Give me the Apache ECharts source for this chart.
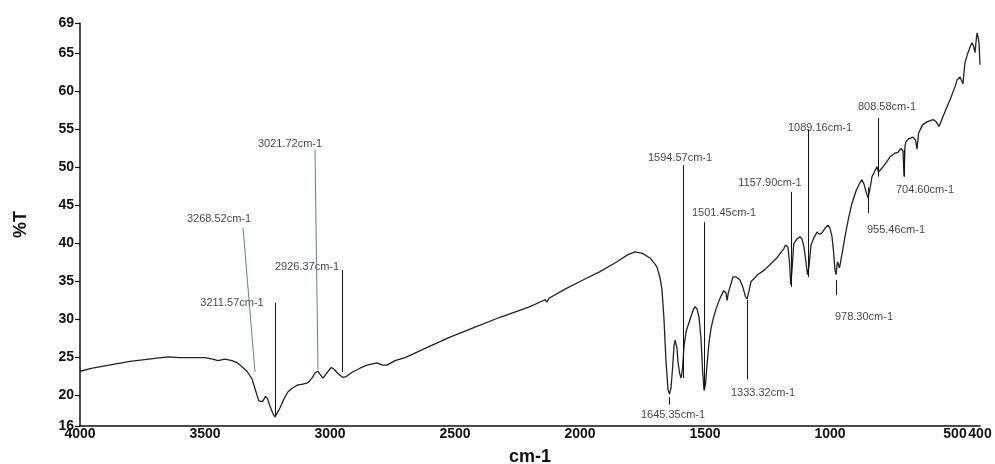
<!DOCTYPE html>
<html>
<head>
<meta charset="utf-8">
<script src="https://cdn.jsdelivr.net/npm/echarts@6/dist/echarts.min.js"></script>
<style>
html,body{margin:0;padding:0;background:#fff;}
#chart{width:995px;height:464px;}
</style>
</head>
<body>
<div id="chart"></div>
<script>
// ---- data ----
const wavenumbers = [4000,3950,3900,3850,3800,3750,3700,3648,3600,3550,3500,3470,3448,3420,3392,3370,3352,3330,3312,3300,3285,3270,3258,3250,3240,3228,3220,3210,3200,3185,3168,3150,3128,3108,3088,3070,3060,3048,3035,3028,3012,2995,2985,2965,2950,2935,2910,2880,2852,2812,2790,2772,2740,2700,2680,2600,2520,2420,2320,2250,2200,2140,2132,2124,2060,1988,1920,1852,1810,1780,1750,1720,1700,1692,1680,1672,1664,1656,1648,1642,1636,1630,1624,1620,1616,1612,1608,1602,1596,1590,1584,1575,1560,1548,1540,1532,1524,1516,1510,1504,1498,1492,1484,1476,1468,1455,1440,1425,1416,1412,1406,1398,1388,1375,1360,1348,1338,1332,1325,1316,1300,1290,1280,1260,1240,1228,1210,1195,1185,1178,1168,1162,1157,1152,1145,1132,1120,1112,1104,1096,1090,1084,1076,1068,1060,1052,1042,1032,1020,1008,1000,992,986,980,976,970,966,962,958,950,940,926,912,895,880,872,864,856,848,840,832,824,812,806,800,790,772,760,740,728,716,708,704,700,696,684,668,658,652,646,630,612,588,575,564,556,548,520,500,492,480,472,468,464,460,448,440,432,426,420,416,412,408,404,400];
const transmittance = [23.2,23.6,23.9,24.2,24.5,24.7,24.9,25.1,25.0,25.0,25.0,24.8,24.6,24.8,24.6,24.3,23.8,23.1,22.2,20.9,19.3,19.2,19.9,19.6,18.6,17.6,17.2,17.8,18.4,19.5,20.5,21.0,21.4,21.5,21.7,22.4,23.0,23.2,22.6,22.3,23.0,23.7,23.5,22.8,22.4,22.5,23.1,23.6,24.0,24.3,24.0,24.0,24.6,25.0,25.3,26.5,27.7,29.0,30.3,31.1,31.7,32.6,32.3,32.8,34.0,35.2,36.3,37.6,38.5,38.9,38.7,38.1,37.3,36.9,35.5,33.9,30.0,24.5,20.8,20.2,21.0,23.5,26.5,27.3,26.8,26.2,24.4,23.0,22.3,23.5,26.5,28.5,30.0,31.2,31.7,31.4,30.3,27.5,23.5,20.7,21.5,24.0,27.0,28.8,30.0,31.5,32.8,33.8,33.5,32.5,33.6,34.5,35.6,35.6,35.2,34.2,33.0,32.7,33.6,35.0,35.5,35.9,36.1,36.6,37.2,37.6,38.2,38.9,39.3,39.8,39.5,37.5,34.6,36.5,40.0,40.6,40.9,40.6,39.5,37.5,35.9,37.0,39.8,40.5,41.0,41.5,41.2,41.4,42.0,42.4,42.0,40.9,39.0,36.5,35.9,37.6,37.8,36.8,36.7,39.0,40.9,43.3,45.3,47.0,48.0,48.4,47.8,46.8,46.0,47.2,48.8,49.3,50.1,49.4,49.3,50.0,50.8,51.4,51.9,52.0,52.5,52.2,48.8,52.8,53.4,53.8,54.0,53.6,52.4,54.5,55.6,56.0,56.3,56.0,55.4,56.0,56.7,58.9,60.6,61.5,61.9,61.7,61.0,62.5,63.8,65.1,65.8,66.4,66.0,65.1,66.5,67.7,67.2,66.4,63.5];

const xTickValues = [4000,3500,3000,2500,2000,1500,1000,500,400];
const yTickValues = [16,20,25,30,35,40,45,50,55,60,65,69];

// peak annotations (data units): line start/end and label anchor
const peakTexts  = ['3268.52cm-1','3211.57cm-1','3021.72cm-1','2926.37cm-1','1645.35cm-1','1594.57cm-1','1501.45cm-1','1333.32cm-1','1157.90cm-1','1089.16cm-1','808.58cm-1','704.60cm-1','955.46cm-1','978.30cm-1'];
const peakTopX   = [3348,3220,3060,2952,1644,1588,1504,1332,1156,1088,808,704,848,976];
const peakTopY   = [42.1,32.2,52.3,36.5,19.8,50.3,42.8,32.6,46.8,55.0,56.5,52.3,47.4,35.2];
const peakBotX   = [3300,3220,3048,2952,1644,1588,1504,1332,1156,1088,808,704,848,976];
const peakBotY   = [23.1,17.4,23.4,23.1,18.8,22.3,20.7,22.1,34.3,35.6,48.8,48.8,44.0,33.2];
const peakLabelX = [3444,3392,3160,3092,1628,1600,1424,1268,1240,1040,772,620,736,864];
const peakLabelY = [43.2,32.2,53.1,36.9,17.4,51.3,44.0,20.3,48.0,55.2,58.0,47.1,41.8,30.3];
const peakBluish = [true,false,true,false,false,false,false,false,false,false,false,false,false,false];

const spectrum = wavenumbers.map((w, i) => [w, transmittance[i]]);
const markLines = peakTexts.map((t, i) => [
  { coord: [peakTopX[i], peakTopY[i]], lineStyle: { color: peakBluish[i] ? '#5f7f96' : '#111', width: 1, type: 'solid' } },
  { coord: [peakBotX[i], peakBotY[i]] }
]);
const labelPoints = peakTexts.map((t, i) => ({ value: [peakLabelX[i], peakLabelY[i]], name: t }));

const chart = echarts.init(document.getElementById('chart'), null, { renderer: 'canvas' });
const fontFam = '"Liberation Sans", Arial, sans-serif';
chart.setOption({
  animation: false,
  backgroundColor: '#fff',
  grid: { left: 80, right: 15, top: 23, bottom: 38, containLabel: false, outerBoundsMode: 'none' },
  xAxis: {
    type: 'value', inverse: true, min: 400, max: 4000,
    name: 'cm-1', nameLocation: 'middle', nameGap: 22,
    nameTextStyle: { fontFamily: fontFam, fontWeight: 'bold', fontSize: 18, color: '#111' },
    axisLine: { show: true, lineStyle: { color: '#111', width: 1.5 } },
    axisTick: { show: false },
    splitLine: { show: false },
    axisLabel: { customValues: xTickValues, formatter: v => String(v), fontFamily: fontFam, fontWeight: 'bold', fontSize: 14, color: '#111', margin: 1, hideOverlap: false }
  },
  yAxis: {
    type: 'value', min: 16, max: 69,
    name: '%T', nameLocation: 'middle', nameGap: 50, nameRotate: 90,
    nameTextStyle: { fontFamily: fontFam, fontWeight: 'bold', fontSize: 18, color: '#111' },
    axisLine: { show: true, lineStyle: { color: '#111', width: 1.5 } },
    axisTick: { show: true, inside: false, length: 5, customValues: yTickValues, lineStyle: { color: '#111', width: 1.2 } },
    splitLine: { show: false },
    axisLabel: { customValues: yTickValues, formatter: v => String(v), fontFamily: fontFam, fontWeight: 'bold', fontSize: 14, color: '#111', margin: 6 }
  },
  series: [
    {
      type: 'line', data: spectrum, showSymbol: false, symbol: 'none', smooth: false,
      lineStyle: { color: '#222', width: 1.3 },
      markLine: { silent: true, symbol: ['none', 'none'], label: { show: false }, animation: false, data: markLines }
    },
    {
      type: 'scatter', data: labelPoints, symbolSize: 0, silent: true,
      label: {
        show: true, position: [0, 0], align: 'center', verticalAlign: 'middle',
        formatter: p => p.name, fontFamily: fontFam, fontSize: 11, color: '#111'
      }
    }
  ]
});
</script>
</body>
</html>
